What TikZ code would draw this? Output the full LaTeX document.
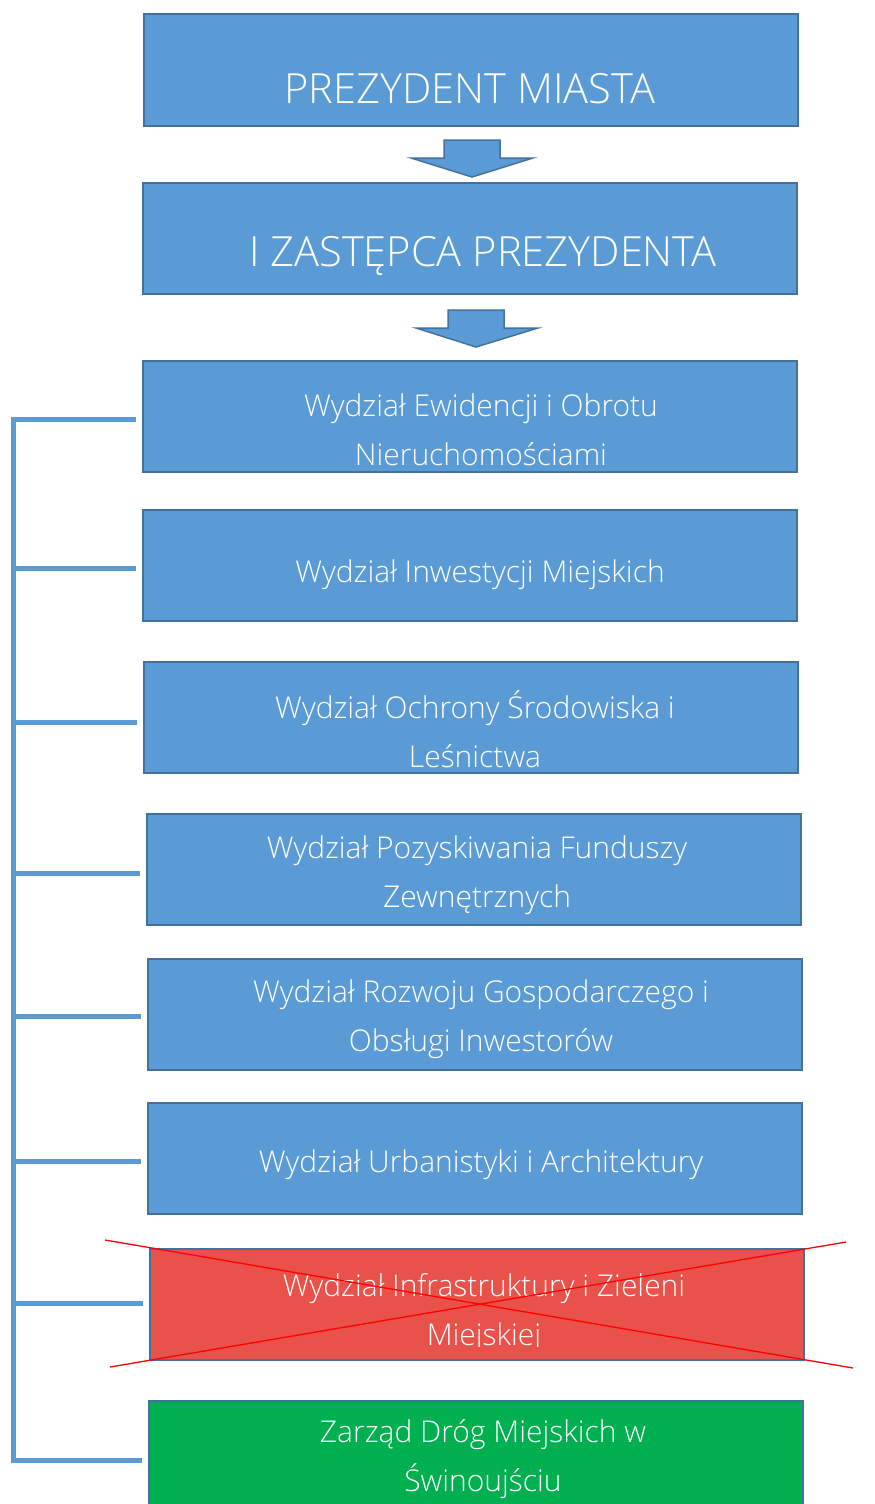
\documentclass[tikz,border=0pt]{standalone}
\usepackage{fontspec}
\setmainfont{Open Sans}[UprightFont={* Light}]
\definecolor{bfill}{HTML}{5B9BD5}
\definecolor{bline}{HTML}{41719C}
\definecolor{rfill}{HTML}{E9524A}
\definecolor{gfill}{HTML}{00B050}
\begin{document}
\begin{tikzpicture}[x=1pt,y=-1pt,
  box/.style={draw=bline,line width=2pt,fill=bfill,minimum width=654pt,minimum height=111pt,inner sep=0pt,outer sep=0pt},
  txt/.style={text=white,font=\fontsize{30}{49}\selectfont,align=center,inner sep=0pt},
  bigtxt/.style={text=white,font=\fontsize{41.6}{44}\selectfont,align=center,inner sep=0pt},
  darrow/.style={draw=bline,line width=1.5pt,fill=bfill,line join=miter},
  br/.style={draw=bfill,line width=5pt},
  cross/.style={draw=red,line width=1.3pt}]
\useasboundingbox (0,0) rectangle (875,1504);
\clip (0,0) rectangle (875,1504);
% boxes
\node[box] (b1) at (471,70) {};
\node[bigtxt] (t1) at (470,89) {PREZYDENT MIASTA};
\filldraw[darrow] (444,140) -- (500,140) -- (500,158) -- (533,158) -- (472,177) -- (411,158) -- (444,158) -- cycle;
\node[box] (b2) at (470,238) {};
\node[bigtxt] (t2) at (483,256) {I ZASTĘPCA PREZYDENTA};
\filldraw[darrow] (448,310) -- (504,310) -- (504,328) -- (538,328) -- (476,347) -- (416,328) -- (448,328) -- cycle;
\node[box] (b3) at (470,416.5) {};
\node[txt] (t3) at (481,429.5) {Wydział Ewidencji i Obrotu\\Nieruchomościami};
\node[box] (b4) at (470,565.5) {};
\node[txt] (t4) at (480,575) {Wydział Inwestycji Miejskich};
\node[box] (b5) at (471,717) {};
\node[txt] (t5) at (475,729.5) {Wydział Ochrony Środowiska i\\Leśnictwa};
\node[box] (b6) at (473.5,869) {};
\node[txt] (t6) at (477,875.5) {Wydział Pozyskiwania Funduszy\\Zewnętrznych};
\node[box] (b7) at (475,1014) {};
\node[txt] (t7) at (481,1019.5) {Wydział Rozwoju Gospodarczego i\\Obsługi Inwestorów};
\node[box] (b8) at (475,1158) {};
\node[txt] (t8) at (481,1165) {Wydział Urbanistyki i Architektury};
\node[box,fill=rfill] (b9) at (477,1304) {};
\begin{scope}
\clip (150,1248) rectangle (804,1346);
\node[txt] (t9) at (484,1313.5) {Wydział Infrastruktury i Zieleni\\Miejskiej};
\end{scope}
\node[box,fill=gfill] (b10) at (475.5,1456) {};
\node[txt] (t10) at (483,1459.5) {Zarząd Dróg Miejskich w\\Świnoujściu};
% cross
\draw[cross] (105,1240) -- (853,1368);
\draw[cross] (110,1367) -- (846,1242);
% bracket
\coordinate (top) at (13,416.5);
\coordinate (bot) at (13,1462.5);
\draw[br] (top) -- (bot);
\foreach \b/\y in {b3/419,b4/568,b5/722,b6/873,b7/1016,b8/1161,b9/1303,b10/1460}{
  \draw[br] (10.5,\y) -- ([xshift=-7pt]\b.west |- 0,\y);
}
\end{tikzpicture}
\end{document}
